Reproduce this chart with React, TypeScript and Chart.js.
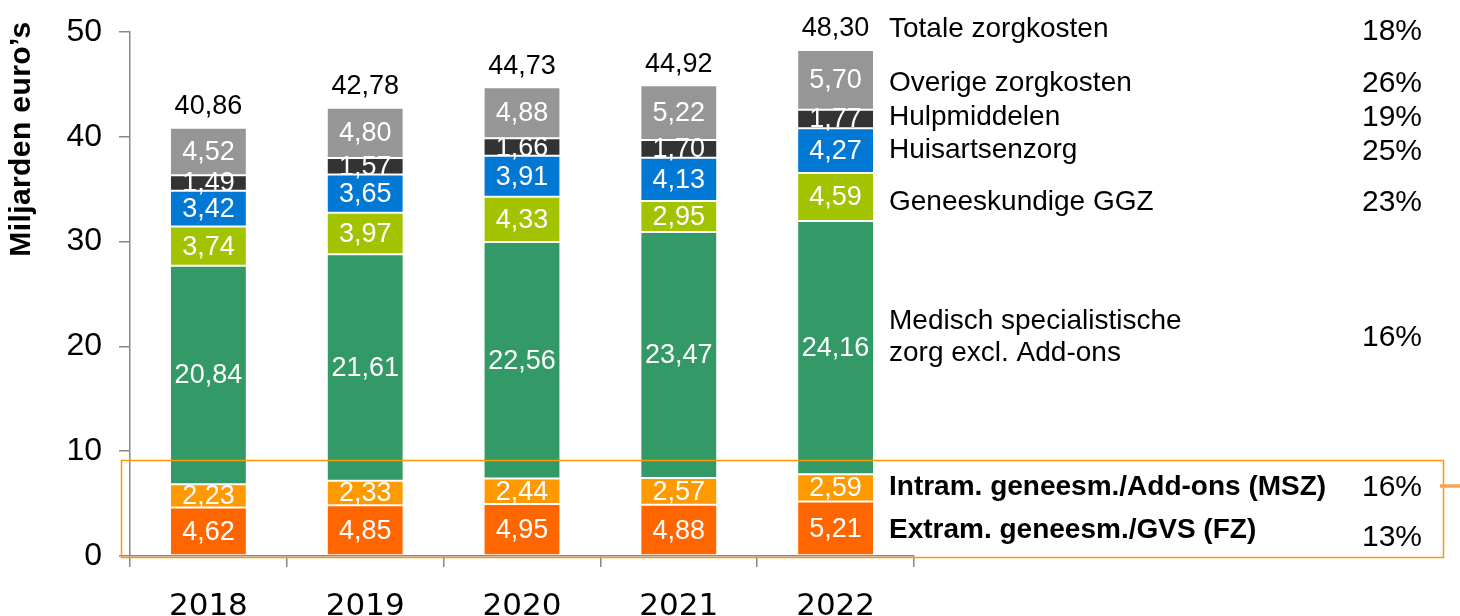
import React, { useEffect, useRef } from "react";
import { Chart, registerables } from "chart.js";
Chart.register(...registerables);

const years = ["2018", "2019", "2020", "2021", "2022"];
const extram = [4.62, 4.85, 4.95, 4.88, 5.21];
const intram = [2.23, 2.33, 2.44, 2.57, 2.59];
const msz = [20.84, 21.61, 22.56, 23.47, 24.16];
const ggz = [3.74, 3.97, 4.33, 2.95, 4.59];
const huisarts = [3.42, 3.65, 3.91, 4.13, 4.27];
const hulpmiddelen = [1.49, 1.57, 1.66, 1.7, 1.77];
const overige = [4.52, 4.8, 4.88, 5.22, 5.7];
const totals = [40.86, 42.78, 44.73, 44.92, 48.3];

const seriesNames = [
  "Extram. geneesm./GVS (FZ)",
  "Intram. geneesm./Add-ons (MSZ)",
  "Medisch specialistische zorg excl. Add-ons",
  "Geneeskundige GGZ",
  "Huisartsenzorg",
  "Hulpmiddelen",
  "Overige zorgkosten",
];
const legendLines = [
  ["Extram. geneesm./GVS (FZ)"],
  ["Intram. geneesm./Add-ons (MSZ)"],
  ["Medisch specialistische", "zorg excl. Add-ons"],
  ["Geneeskundige GGZ"],
  ["Huisartsenzorg"],
  ["Hulpmiddelen"],
  ["Overige zorgkosten"],
];
const legendBold = [true, true, false, false, false, false, false];
const growth = ["13%", "16%", "16%", "23%", "25%", "19%", "26%"];
const totalName = "Totale zorgkosten";
const totalGrowth = "18%";
const yTitle = "Miljarden euro\u2019s";

const colors = ["#FF6600", "#FF9900", "#339966", "#A2C300", "#0078D4", "#333333", "#969696"];
const seriesData = [extram, intram, msz, ggz, huisarts, hulpmiddelen, overige];

const fmt = (v: number) => v.toFixed(2).replace(".", ",");

// small vertical nudges of the legend rows (px) relative to the 2022 segment centres
const legendNudge = [2, -1, -10, 5, 0, -2, 3];
const pctNudge = [9, 0, -10, 6, 1, -1, 4];

export default function App() {
  const ref = useRef<HTMLCanvasElement | null>(null);
  useEffect(() => {
    const canvas = ref.current;
    if (!canvas) return;
    const sans = "'Liberation Sans', Arial, sans-serif";

    const overlay = {
      id: "overlay",
      afterDatasetsDraw(chart: any) {
        const ctx = chart.ctx;
        ctx.save();
        ctx.textAlign = "center";
        ctx.textBaseline = "middle";
        chart.data.datasets.forEach((ds: any, di: number) => {
          const meta = chart.getDatasetMeta(di);
          meta.data.forEach((el: any, i: number) => {
            const cy = (el.y + el.base) / 2;
            ctx.fillStyle = "#ffffff";
            ctx.font = `27px ${sans}`;
            ctx.fillText(fmt(ds.data[i]), el.x, cy + 1);
          });
        });
        const topMeta = chart.getDatasetMeta(chart.data.datasets.length - 1);
        topMeta.data.forEach((el: any, i: number) => {
          ctx.fillStyle = "#000000";
          ctx.font = `27px ${sans}`;
          ctx.fillText(fmt(totals[i]), el.x, el.y - 21);
        });
        ctx.restore();
      },
      afterDraw(chart: any) {
        const ctx = chart.ctx;
        ctx.save();
        const lx = 889;
        const px = 1422;
        const last = years.length - 1;
        ctx.textBaseline = "middle";
        chart.data.datasets.forEach((ds: any, di: number) => {
          const el = chart.getDatasetMeta(di).data[last];
          const center = (el.y + el.base) / 2;
          const cy = center + legendNudge[di];
          const lines = legendLines[di];
          ctx.fillStyle = "#000";
          ctx.textAlign = "left";
          ctx.font = `${legendBold[di] ? "bold " : ""}28px ${sans}`;
          lines.forEach((t, li) => {
            ctx.fillText(t, lx, cy + (li - (lines.length - 1) / 2) * 32);
          });
          ctx.textAlign = "right";
          ctx.font = `30px ${sans}`;
          ctx.fillText(growth[di], px, center + pctNudge[di]);
        });
        const topEl = chart.getDatasetMeta(chart.data.datasets.length - 1).data[last];
        ctx.textAlign = "left";
        ctx.font = `28px ${sans}`;
        ctx.fillText(totalName, lx, topEl.y - 21);
        ctx.textAlign = "right";
        ctx.font = `30px ${sans}`;
        ctx.fillText(totalGrowth, px, topEl.y - 18);

        ctx.save();
        ctx.translate(22, 139);
        ctx.rotate(-Math.PI / 2);
        ctx.textAlign = "center";
        ctx.font = `bold 30px ${sans}`;
        (ctx as any).letterSpacing = "0.4px";
        ctx.fillText(yTitle, 0, 0);
        ctx.restore();

        ctx.strokeStyle = "#FF9900";
        ctx.lineWidth = 1.5;
        ctx.strokeRect(121.5, 460.5, 1322, 97);
        ctx.strokeStyle = "#F7A54A";
        ctx.lineWidth = 3.5;
        ctx.beginPath();
        ctx.moveTo(1440, 486);
        ctx.lineTo(1460, 486);
        ctx.stroke();
        ctx.restore();
      },
    };

    const chart = new Chart(canvas, {
      type: "bar",
      data: {
        labels: years,
        datasets: seriesData.map((d, i) => ({
          label: seriesNames[i],
          data: d,
          backgroundColor: colors[i],
          borderColor: "#ffffff",
          borderWidth: 1,
          borderSkipped: false,
          categoryPercentage: 1,
          barPercentage: 0.49,
        })),
      },
      options: {
        responsive: false,
        animation: false,
        layout: { padding: { top: 32, right: 546, bottom: 0, left: 0 } },
        plugins: { legend: { display: false }, tooltip: { enabled: false } },
        scales: {
          x: {
            stacked: true,
            afterFit: (s: any) => {
              s.height = 60;
              s.paddingLeft = 0;
              s.paddingRight = 0;
            },
            grid: { drawOnChartArea: false, color: "#888", tickLength: 11, lineWidth: 1.5 },
            border: { display: true, color: "#888", width: 1.5 },
            ticks: { color: "#000", font: { family: "'DejaVu Sans', sans-serif", size: 31 }, padding: 21 },
          },
          y: {
            stacked: true,
            min: 0,
            max: 50,
            afterFit: (s: any) => {
              s.width = 130;
              s.paddingTop = 0;
              s.paddingBottom = 0;
            },
            grid: { drawOnChartArea: false, color: "#888", tickLength: 11, lineWidth: 1.5 },
            border: { display: true, color: "#888", width: 1.5 },
            ticks: { stepSize: 10, color: "#000", font: { family: sans, size: 32 }, padding: 17 },
          },
        },
      },
      plugins: [overlay],
    });
    return () => chart.destroy();
  }, []);

  return (
    <div style={{ position: "fixed", left: 0, top: 0, width: 1460, height: 616, background: "#fff" }}>
      <canvas ref={ref} width={1460} height={616} style={{ width: 1460, height: 616 }} />
    </div>
  );
}
